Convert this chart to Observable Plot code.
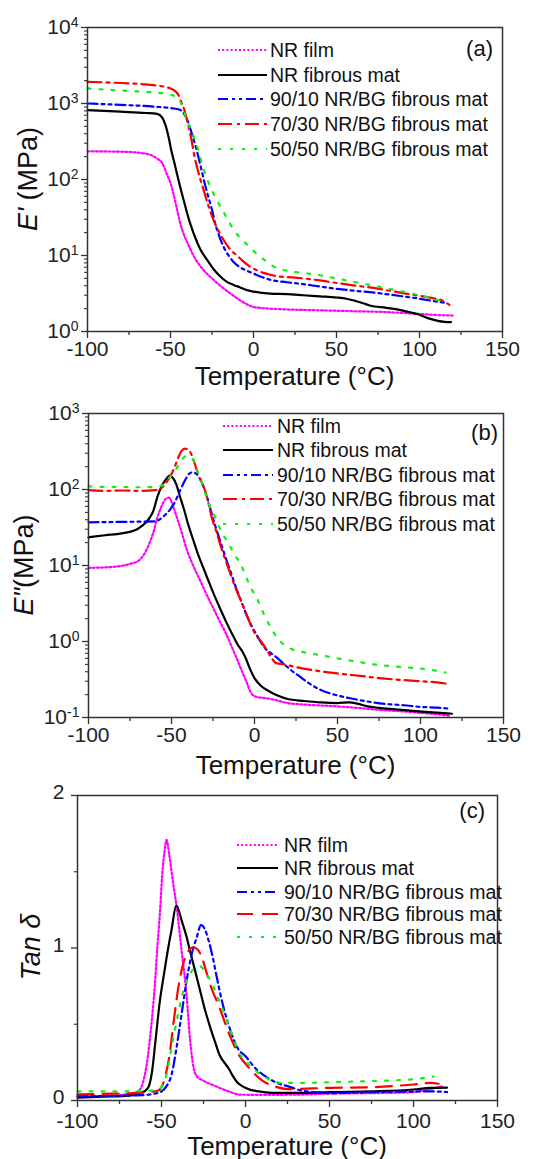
<!DOCTYPE html>
<html><head><meta charset="utf-8">
<script src="https://cdn.jsdelivr.net/npm/d3@7"></script>
<script src="https://cdn.jsdelivr.net/npm/@observablehq/plot@0.6"></script>
<style>body{margin:0;background:#fff}#chart{width:534px}#chart svg{display:block;overflow:visible}</style>
</head><body><div id="chart"></div>
<script>
// ---------- DATA ----------
const seriesNames = ["NR film","NR fibrous mat","90/10 NR/BG fibrous mat","70/30 NR/BG fibrous mat","50/50 NR/BG fibrous mat"];
const xMajorTicks = [-100,-50,0,50,100,150];
const xMinorTicks = [-75,-25,25,75,125];

// (a) storage modulus E' (MPa) : [temperature, value]
const storageFilm = [[-100,235],[-80,232],[-70,226],[-62,210],[-58,188],[-55,165],[-52,115],[-50,90],[-48,62],[-46,40],[-44,26],[-42,19],[-40,15],[-35,9],[-30,6.4],[-25,5],[-20,4],[-15,3.3],[-10,2.75],[-5,2.35],[0,2.1],[10,2.0],[20,1.95],[40,1.9],[60,1.85],[80,1.8],[100,1.7],[110,1.65],[120,1.62]];
const storageMat = [[-100,820],[-80,780],[-65,750],[-58,730],[-55,650],[-53,520],[-51,350],[-49.5,240],[-47.5,160],[-45.5,105],[-43.5,70],[-41.5,48],[-39.5,33],[-37.5,24],[-35,17],[-32,12],[-28,8.8],[-24,6.6],[-20,5.3],[-16,4.5],[-12,4.1],[-8,3.8],[-4,3.5],[0,3.35],[10,3.15],[20,3.1],[30,3.0],[40,2.9],[50,2.8],[56,2.7],[62,2.5],[66,2.35],[70,2.2],[80,2.05],[88,1.93],[95,1.78],[100,1.66],[105,1.5],[111,1.38],[115,1.34],[119,1.33]];
const storage9010 = [[-100,1000],[-80,960],[-60,910],[-48,860],[-44,820],[-41,680],[-39,540],[-37,390],[-35,280],[-33,190],[-31,125],[-29,82],[-27,57],[-25,40],[-23,26],[-21,19],[-18,13],[-15,10],[-12,8.2],[-8,7.0],[-4,6.3],[0,5.8],[5,5.2],[10,4.8],[20,4.45],[30,4.2],[40,3.9],[50,3.65],[60,3.45],[70,3.3],[80,3.1],[90,2.9],[100,2.7],[109,2.5],[117,2.36]];
const storage7030 = [[-100,1930],[-85,1880],[-65,1780],[-52,1630],[-48,1500],[-45.5,1330],[-43.5,1050],[-41.5,800],[-40,600],[-38.5,440],[-37,300],[-35.5,200],[-33,120],[-30,72],[-27,44],[-24,29],[-21,21],[-18,16],[-14,12],[-10,10],[-6,8.3],[-2,7.1],[2,6.4],[6,5.9],[10,5.6],[15,5.3],[20,5.2],[30,5.0],[40,4.7],[50,4.35],[60,4.05],[70,3.8],[80,3.5],[90,3.2],[100,2.95],[108,2.75],[113,2.6],[118,2.24]];
const storage5050 = [[-100,1580],[-85,1500],[-65,1420],[-53,1350],[-47,1230],[-44,1050],[-42,800],[-40,600],[-37.5,440],[-35,320],[-33,230],[-30,135],[-26,80],[-22,53],[-17,34],[-12,22],[-8,17],[-4,14],[0,11.5],[4,9.7],[8,8.3],[12,7.2],[20,6.3],[30,5.9],[40,5.5],[50,5.0],[60,4.5],[70,4.1],[80,3.7],[90,3.35],[100,3.0],[108,2.7],[117,2.4]];

// (b) loss modulus E'' (MPa)
const lossFilm = [[-100,9.3],[-85,9.6],[-75,10.5],[-70,11.5],[-67,13.5],[-64,18],[-61,27],[-58.5,43],[-56,60],[-53.5,75],[-51.5,78],[-49.5,65],[-47.5,48],[-44,28],[-40.5,15.5],[-36.5,9.5],[-32.5,6.2],[-29,4.2],[-25,2.8],[-21,1.85],[-17,1.25],[-14,0.88],[-11,0.62],[-8,0.43],[-5,0.3],[-2,0.21],[0,0.19],[10,0.175],[20,0.155],[30,0.148],[45,0.142],[60,0.135],[75,0.126],[90,0.12],[100,0.115],[110,0.11],[118,0.105]];
const lossMat = [[-100,23.5],[-90,25],[-80,26.5],[-72,29],[-68,33],[-64,40],[-61,52],[-58.5,80],[-56,110],[-53.5,135],[-51,152],[-49.5,145],[-47,115],[-45,82],[-42.5,55],[-40,35],[-37,22],[-34,14],[-31,9.5],[-28,6.5],[-24.5,4.2],[-21,2.8],[-17,1.8],[-13,1.2],[-10,0.9],[-7.5,0.75],[-5.5,0.62],[-3,0.45],[0,0.33],[4,0.26],[9,0.22],[15,0.19],[20,0.175],[30,0.165],[40,0.158],[50,0.155],[57,0.158],[62,0.152],[68,0.14],[75,0.134],[85,0.128],[95,0.122],[105,0.118],[112,0.115],[119,0.112]];
const loss9010 = [[-100,37],[-80,37.5],[-60,38],[-55,44],[-51,54],[-48,68],[-45,95],[-42,130],[-39.5,160],[-37.5,168],[-35,160],[-32,128],[-29,85],[-26,50],[-23,30],[-20,19],[-17,12],[-14,7.8],[-11,5],[-8,3.4],[-5,2.3],[-2,1.65],[2,1.15],[6,0.83],[10,0.7],[14,0.6],[18,0.5],[22,0.42],[27,0.35],[32,0.29],[40,0.23],[50,0.195],[60,0.175],[70,0.16],[80,0.15],[90,0.145],[100,0.138],[110,0.135],[118,0.13]];
const loss7030 = [[-100,98],[-90,96],[-80,97],[-70,96],[-60,98],[-56,105],[-53,125],[-50,160],[-48,200],[-46,260],[-44,320],[-42,345],[-40,335],[-38,290],[-36,220],[-34,160],[-32,125],[-30,100],[-28,70],[-26,45],[-23,28],[-20,17],[-17,11],[-14,7.2],[-11,4.8],[-8,3.4],[-5,2.3],[-2,1.6],[1,1.2],[4,1.0],[7,0.8],[10,0.62],[13,0.52],[18,0.5],[25,0.46],[35,0.42],[50,0.38],[65,0.35],[75,0.33],[90,0.31],[100,0.3],[110,0.29],[115,0.28]];
const loss5050 = [[-100,110],[-90,108],[-80,108],[-70,107],[-60,108],[-55,115],[-51,145],[-48,175],[-45,220],[-42,270],[-40,280],[-38,265],[-36,220],[-34,165],[-32,128],[-30,95],[-27,60],[-24,45],[-20,28],[-16,20],[-12,14],[-8,10],[-5,7],[-2,5],[2,3.5],[6,2.2],[10,1.5],[14,1.1],[18,0.9],[22,0.8],[30,0.72],[40,0.66],[50,0.6],[60,0.55],[75,0.49],[90,0.46],[100,0.44],[110,0.41],[115,0.39]];

// (c) tan delta
const tanFilm = [[-100,0.028],[-85,0.03],[-72,0.04],[-64,0.06],[-61,0.12],[-58,0.3],[-56,0.5],[-54,0.75],[-52.5,1.0],[-51,1.22],[-49.5,1.49],[-48,1.65],[-47,1.71],[-45.5,1.62],[-43.5,1.46],[-41,1.27],[-38,0.98],[-35,0.68],[-33,0.4],[-31,0.22],[-29,0.16],[-25,0.13],[-18,0.095],[-10,0.06],[-3,0.038],[10,0.037],[30,0.038],[50,0.045],[75,0.048],[100,0.055],[110,0.075],[118,0.095]];
const tanMat = [[-100,0.018],[-85,0.025],[-72,0.03],[-62,0.05],[-58,0.083],[-55.5,0.2],[-53.5,0.4],[-51,0.65],[-48.5,0.83],[-46,1.0],[-44,1.12],[-41.2,1.28],[-38,1.18],[-35,1.07],[-33,0.98],[-30,0.85],[-27,0.72],[-24,0.59],[-21,0.48],[-18,0.38],[-15.5,0.3],[-12,0.24],[-10,0.21],[-8,0.17],[-5,0.12],[-2,0.094],[3,0.07],[8,0.06],[18,0.05],[35,0.05],[50,0.055],[75,0.06],[100,0.072],[110,0.083],[120,0.085]];
const tan9010 = [[-100,0.028],[-80,0.03],[-62,0.035],[-52,0.05],[-47,0.094],[-44,0.17],[-41,0.35],[-38,0.57],[-35,0.79],[-32,0.96],[-29,1.07],[-26.5,1.15],[-24.5,1.13],[-22,1.05],[-19.5,0.94],[-17.5,0.83],[-13.5,0.63],[-9,0.46],[-5,0.35],[0,0.29],[6,0.21],[13,0.15],[20,0.11],[25,0.094],[33,0.066],[40,0.055],[50,0.048],[75,0.055],[100,0.059],[110,0.06],[120,0.055]];
const tan7030 = [[-100,0.04],[-80,0.045],[-62,0.05],[-52,0.066],[-48.5,0.13],[-45.5,0.28],[-42.5,0.54],[-40,0.74],[-37,0.9],[-34,0.98],[-31,1.005],[-28.5,0.99],[-26,0.94],[-23.5,0.85],[-21,0.76],[-15.5,0.61],[-9.5,0.43],[-4,0.3],[2,0.215],[10,0.13],[17,0.094],[25,0.075],[50,0.083],[75,0.087],[100,0.105],[110,0.115],[115,0.11]];
const tan5050 = [[-100,0.06],[-80,0.06],[-62,0.062],[-52,0.072],[-47,0.17],[-44,0.35],[-41,0.52],[-37,0.72],[-33,0.83],[-30,0.87],[-27,0.88],[-24,0.84],[-21,0.79],[-15.5,0.65],[-9.5,0.48],[-4,0.32],[4,0.215],[12,0.15],[21,0.116],[35,0.115],[50,0.12],[75,0.127],[100,0.14],[112,0.157]];

// ---------- STYLE ----------
const FONT = "'Liberation Sans', Arial, Helvetica, sans-serif";
const colors = ["#ff00ff","#000000","#0000ff","#ff0000","#11ee11"];
const dashesAB = ["2,2.2", null, "10,4,3,4,3,4", "14,5,3,5", "3,9"];
const dashesC  = ["2,2.2", null, "10,4,3,4,3,4", "16,9", "3,9"];
const AXIS = "#333";

function supFormat(d){ return "10^" + Math.round(Math.log10(d)); }

function makePanel(cfg){
  const lines = cfg.series.map((s,i)=>Plot.line(s,{x:d=>d[0], y:d=>d[1], stroke:colors[i], strokeWidth:2.2, strokeDasharray:cfg.dashes[i]||undefined, curve:"monotone-x"}));
  const svg = Plot.plot({
    width:534, height:cfg.height,
    marginTop:cfg.mt, marginBottom:cfg.mb, marginLeft:cfg.ml, marginRight:cfg.mr,
    style:{fontFamily:FONT, fontSize:"21px", background:"#fff", color:"#222", overflow:"visible"},
    x:{domain:[-100,150]},
    y:cfg.y,
    marks:[
      Plot.axisX({ticks:xMajorTicks, tickSize:7, tickPadding:cfg.xPad, tickFormat:d=>String(d), label:null, fontSize:21, stroke:AXIS, strokeWidth:1.3}),
      Plot.axisX({ticks:xMinorTicks, tickSize:4, tickFormat:()=>"", label:null, stroke:AXIS, strokeWidth:1.3}),
      Plot.axisY({ticks:cfg.yMajor, tickSize:6, tickPadding:cfg.yPad, tickFormat:cfg.yFormat, label:null, fontSize:21, stroke:AXIS, strokeWidth:1.3}),
      Plot.axisY({ticks:cfg.yMinor, tickSize:3, tickFormat:()=>"", label:null, stroke:AXIS, strokeWidth:1.1}),
      ...lines,
      Plot.frame({stroke:AXIS, strokeWidth:1.5})
    ]
  });
  const s = d3.select(svg);
  // superscripts for log tick labels
  s.selectAll("text").each(function(){
    const t = this.textContent;
    const m = /^10\^(-?\d+)$/.exec(t);
    if(m){
      const el = d3.select(this);
      el.text(null);
      el.append("tspan").text("10");
      el.append("tspan").attr("dy","-0.5em").attr("font-size","14px").text(m[1]);
    }
  });
  if(cfg.yShift){
    s.selectAll('g[aria-label="y-axis tick label"]').attr("transform", function(){
      return (this.getAttribute("transform")||"") + ` translate(0,${cfg.yShift})`;
    });
  }
  const g = s.append("g").attr("font-family",FONT).attr("fill","#111");
  // x label
  g.append("text").attr("x",cfg.xlx).attr("y",cfg.xly).attr("text-anchor","middle").attr("font-size",26).text("Temperature (°C)");
  // y label
  const yl = g.append("text").attr("transform",`translate(${cfg.ylx},${cfg.yly}) rotate(-90)`).attr("text-anchor","middle").attr("dy","0.35em").attr("font-size",27);
  cfg.ylabel.forEach(p=>yl.append("tspan").attr("font-style",p.italic?"italic":"normal").text(p.t));
  // legend
  seriesNames.forEach((n,i)=>{
    const y = cfg.legY[i];
    const ln = g.append("line").attr("x1",cfg.lx1).attr("x2",cfg.lx2).attr("y1",y).attr("y2",y).attr("stroke",colors[i]).attr("stroke-width",2.2);
    if(cfg.dashes[i]) ln.attr("stroke-dasharray",cfg.dashes[i]);
    g.append("text").attr("x",cfg.tx).attr("y",y).attr("dy","0.35em").attr("text-anchor","start").attr("font-size",19.5).text(n);
  });
  g.append("text").attr("x",cfg.tagX).attr("y",cfg.tagY).attr("dy","0.35em").attr("text-anchor","end").attr("font-size",22).text(cfg.tag);
  return svg;
}

const logMinor = (lo,hi)=>{const r=[];for(let e=lo;e<hi;e++)for(let k=2;k<=9;k++)r.push(k*Math.pow(10,e));return r;};

const chart = document.getElementById("chart");
chart.appendChild(makePanel({
  height:390, mt:27, mb:59, ml:87, mr:32, xPad:3,
  y:{type:"log", domain:[1,1e4]}, yMajor:[1,10,100,1000,10000], yMinor:logMinor(0,4), yFormat:supFormat, yPad:3,
  series:[storageFilm,storageMat,storage9010,storage7030,storage5050], dashes:dashesAB,
  xlx:294.5, xly:385, ylx:28, yly:179, ylabel:[{t:"E'",italic:true},{t:" (MPa)"}],
  legY:[50,75,99,124,149], lx1:218, lx2:267, tx:270, tag:"(a)", tagX:493, tagY:48
}));
chart.appendChild(makePanel({
  height:388, mt:23, mb:61, ml:88, mr:31, xPad:3,
  y:{type:"log", domain:[0.1,1000]}, yMajor:[0.1,1,10,100,1000], yMinor:logMinor(-1,3), yFormat:supFormat, yPad:3,
  series:[lossFilm,lossMat,loss9010,loss7030,loss5050], dashes:dashesAB,
  xlx:295.5, xly:384, ylx:23.5, yly:175, ylabel:[{t:"E\"",italic:true},{t:"(MPa)"}],
  legY:[36,60,85,109,134], lx1:223, lx2:273, tx:277, tag:"(b)", tagX:498, tagY:42
}));
chart.appendChild(makePanel({
  height:381, mt:17, mb:59, ml:77, mr:37, xPad:6, yShift:-3,
  y:{domain:[0,2]}, yMajor:[0,1,2], yMinor:[0.5,1.5], yFormat:d=>String(d), yPad:7,
  series:[tanFilm,tanMat,tan9010,tan7030,tan5050], dashes:dashesC,
  xlx:287, xly:377, ylx:31, yly:169, ylabel:[{t:"Tan δ",italic:true}],
  legY:[67,90,114,136,159], lx1:237, lx2:278, tx:284, tag:"(c)", tagX:485, tagY:32
}));
</script></body></html>
